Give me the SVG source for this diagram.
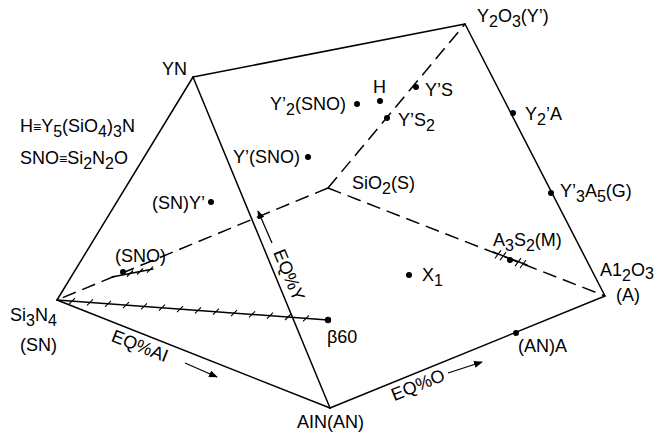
<svg xmlns="http://www.w3.org/2000/svg" width="662" height="432" viewBox="0 0 662 432">
<defs>
<style>
.e{stroke:#000;stroke-width:1.5;fill:none;stroke-linecap:round}
.d{stroke:#000;stroke-width:1.5;fill:none;stroke-dasharray:14 7}
.h{stroke:#000;stroke-width:1.1;fill:none}
.a{stroke:#000;stroke-width:1.2;fill:none;marker-end:url(#ah)}
.t{font-family:"Liberation Sans",Arial,sans-serif;font-size:18px;fill:#000}
.s{font-size:16px}
</style>
<marker id="ah" viewBox="0 0 10 8" refX="9" refY="4" markerWidth="9" markerHeight="7" markerUnits="userSpaceOnUse" orient="auto">
<path d="M0 0L10 4L0 8z" fill="#000"/>
</marker>
</defs>
<g id="connectors">
<path class="e" d="M193 77L465 24"/>
<path class="e" d="M193 77L57 300"/>
<path class="e" d="M193 77L330 408"/>
<path class="e" d="M465 24L605 296"/>
<path class="e" d="M57 300L330 408"/>
<path class="e" d="M330 408L605 296"/>
<path class="d" d="M328 188L57 300"/>
<path class="d" d="M328 188L465 24"/>
<path class="d" d="M328 188L605 296"/>
<path class="e" d="M57 300L328 320"/>
<path class="h" d="M69 304.1l6-6M87 305.4l6-6M105 306.8l6-6M123 308.1l6-6M141 309.4l6-6M159 310.7l6-6M177 312.1l6-6M195 313.4l6-6M213 314.7l6-6M231 316.1l6-6M249 317.4l6-6M267 318.7l6-6M285 320l6-6M303 321.4l6-6"/>
<path class="e" d="M112 277L153 269"/>
<path class="h" d="M127 276.5l6-6M137 274.5l6-6M147 272.6l6-6"/>
<path class="e" d="M493 252L527 265"/>
<path class="h" d="M495 258.3l6-8M500 260.2l6-8M515 266.1l6-8M520 268l6-8"/>
<path class="a" d="M272 243L258 211"/>
<path class="a" d="M185 363L217 377"/>
<path class="a" d="M448 373L482 362"/>
</g>
<g id="YN"><text class="t" x="162" y="75">YN</text></g>
<g id="Y2O3"><text class="t" x="477" y="22">Y<tspan class="s" dy="5">2</tspan><tspan dy="-5">O</tspan><tspan class="s" dy="5">3</tspan><tspan dy="-5">(Y’)</tspan></text></g>
<g id="defH"><text class="t" x="20" y="132">H<tspan font-size="14">≡</tspan>Y<tspan class="s" dy="5">5</tspan><tspan dy="-5">(SiO</tspan><tspan class="s" dy="5">4</tspan><tspan dy="-5">)</tspan><tspan class="s" dy="5">3</tspan><tspan dy="-5">N</tspan></text></g>
<g id="defSNO"><text class="t" x="20" y="164">SNO<tspan font-size="14">≡</tspan>Si<tspan class="s" dy="5">2</tspan><tspan dy="-5">N</tspan><tspan class="s" dy="5">2</tspan><tspan dy="-5">O</tspan></text></g>
<g id="Y2SNO"><text class="t" x="270" y="110">Y’<tspan class="s" dy="5">2</tspan><tspan dy="-5">(SNO)</tspan></text><circle cx="357" cy="104" r="3"/></g>
<g id="H"><text class="t" x="373" y="93">H</text><circle cx="380" cy="101" r="3"/></g>
<g id="YS"><text class="t" x="425" y="96">Y’S</text><circle cx="416" cy="87" r="3"/></g>
<g id="YS2"><text class="t" x="398" y="126">Y’S<tspan class="s" dy="5">2</tspan></text><circle cx="387" cy="118" r="3"/></g>
<g id="Y2A"><text class="t" x="525" y="120">Y<tspan class="s" dy="5">2</tspan><tspan dy="-5">’A</tspan></text><circle cx="513" cy="113" r="3"/></g>
<g id="YSNO"><text class="t" x="233" y="163">Y’(SNO)</text><circle cx="308" cy="157" r="3"/></g>
<g id="SNY"><text class="t" x="152" y="209">(SN)Y’</text><circle cx="211" cy="202" r="3"/></g>
<g id="SiO2"><text class="t" x="352" y="189">SiO<tspan class="s" dy="5">2</tspan><tspan dy="-5">(S)</tspan></text></g>
<g id="G"><text class="t" x="560" y="197">Y’<tspan class="s" dy="5">3</tspan><tspan dy="-5">A</tspan><tspan class="s" dy="5">5</tspan><tspan dy="-5">(G)</tspan></text><circle cx="551" cy="193" r="3"/></g>
<g id="SNO"><text class="t" x="115" y="262">(SNO)</text><circle cx="123" cy="272" r="3"/></g>
<g id="M"><text class="t" x="493" y="246">A<tspan class="s" dy="5">3</tspan><tspan dy="-5">S</tspan><tspan class="s" dy="5">2</tspan><tspan dy="-5">(M)</tspan></text><circle cx="510" cy="260" r="3"/></g>
<g id="X1"><text class="t" x="422" y="281">X<tspan class="s" dy="5">1</tspan></text><circle cx="409" cy="275" r="3"/></g>
<g id="Al2O3"><text class="t" x="600" y="276">A1<tspan class="s" dy="5">2</tspan><tspan dy="-5">O</tspan><tspan class="s" dy="3">3</tspan></text><text class="t" x="616" y="301">(A)</text></g>
<g id="Si3N4"><text class="t" x="10" y="321">Si<tspan class="s" dy="5">3</tspan><tspan dy="-5">N</tspan><tspan class="s" dy="5">4</tspan></text><text class="t" x="20" y="351">(SN)</text></g>
<g id="beta60"><text class="t" x="327" y="343">β60</text><circle cx="328" cy="320" r="3.2"/></g>
<g id="ANA"><text class="t" x="518" y="352">(AN)A</text><circle cx="516" cy="333" r="3"/></g>
<g id="AlN"><text class="t" x="297" y="428">AIN(AN)</text></g>
<g id="axes">
<text class="t" transform="translate(140 346) rotate(21.6)" text-anchor="middle" dy="6">EQ%AI</text>
<text class="t" transform="translate(418 385) rotate(-22.2)" text-anchor="middle" dy="6">EQ%O</text>
<text class="t" transform="translate(289 275) rotate(67.5)" text-anchor="middle" dy="6">EQ%Y</text>
</g>
</svg>
